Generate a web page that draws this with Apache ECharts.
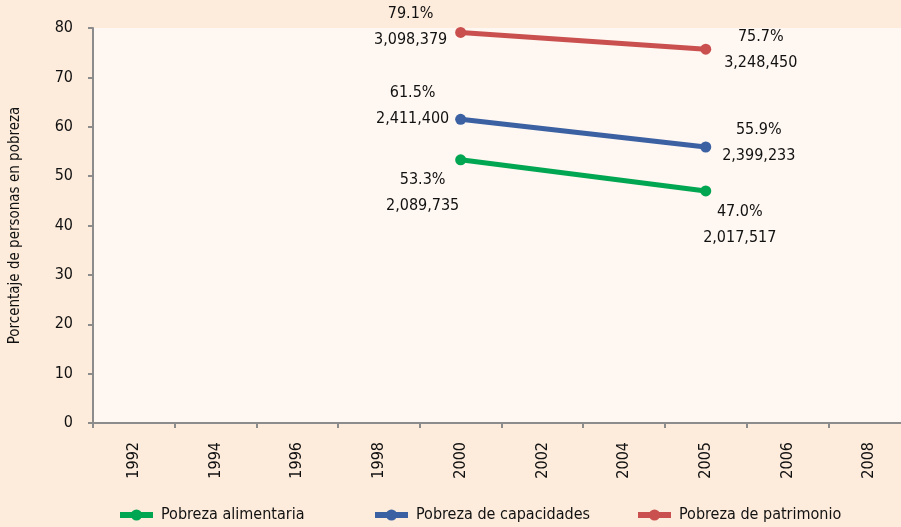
<!DOCTYPE html>
<html>
<head>
<meta charset="utf-8">
<script src="https://cdn.jsdelivr.net/npm/echarts@6/dist/echarts.min.js"></script>
<style>
  html, body { margin: 0; padding: 0; background: #FDEBDB; }
  #chart { width: 901px; height: 527px; }
</style>
</head>
<body>
<div id="chart"></div>
<script>
// Years on the horizontal axis
const years = ['1992', '1994', '1996', '1998', '2000', '2002', '2004', '2005', '2006', '2008'];

// Share of people in poverty (%) per year; null where there is no measurement
const alimentaria = [null, null, null, null, 53.3, null, null, 47.0, null, null];
const capacidades = [null, null, null, null, 61.5, null, null, 55.9, null, null];
const patrimonio  = [null, null, null, null, 79.1, null, null, 75.7, null, null];

// Number of people in poverty per year
const alimentariaPersonas = [null, null, null, null, '2,089,735', null, null, '2,017,517', null, null];
const capacidadesPersonas = [null, null, null, null, '2,411,400', null, null, '2,399,233', null, null];
const patrimonioPersonas  = [null, null, null, null, '3,098,379', null, null, '3,248,450', null, null];

const seriesNames = ['Pobreza alimentaria', 'Pobreza de capacidades', 'Pobreza de patrimonio'];
const colors = ['#00A651', '#3B61A3', '#C9504F'];

const FONT = '"DejaVu Sans Condensed", "Liberation Sans Narrow", "Noto Sans", sans-serif';

// label offsets per series for the 2000 and 2005 points
const labelOffsets = [
  { 4: [-38, 33], 7: [34, 34] },
  { 4: [-48, -14], 7: [53, -4] },
  { 4: [-50, -6], 7: [55, 1] }
];

function buildData(values, people, offsets) {
  return values.map((v, i) => {
    if (v === null) return null;
    return {
      value: v,
      label: {
        show: true,
        position: 'inside',
        offset: offsets[i],
        formatter: v.toFixed(1) + '%\n' + people[i]
      }
    };
  });
}

const valueSets = [alimentaria, capacidades, patrimonio];
const peopleSets = [alimentariaPersonas, capacidadesPersonas, patrimonioPersonas];

const series = seriesNames.map((name, k) => ({
  name: name,
  type: 'line',
  connectNulls: true,
  symbol: 'circle',
  symbolSize: 11,
  lineStyle: { width: 5, color: colors[k] },
  itemStyle: { color: colors[k] },
  label: {
    color: '#111',
    fontFamily: FONT,
    fontSize: 16,
    lineHeight: 26,
    align: 'center',
    verticalAlign: 'middle'
  },
  emphasis: { disabled: true },
  data: buildData(valueSets[k], peopleSets[k], labelOffsets[k])
}));

const legendLefts = [117, 372, 635];
const legends = seriesNames.map((name, k) => ({
  data: [name],
  left: legendLefts[k],
  top: 507,
  padding: 0,
  itemWidth: 33,
  itemHeight: 14,
  itemGap: 0,
  lineStyle: { width: 6 },
  textStyle: { fontFamily: FONT, fontSize: 16, color: '#111', padding: [0, 0, 0, 3] },
  selectedMode: false
}));

const chart = echarts.init(document.getElementById('chart'), null, { renderer: 'canvas' });
chart.setOption({
  backgroundColor: '#FDEBDB',
  animation: false,
  grid: {
    left: 93,
    top: 28,
    width: 817,
    height: 395,
    outerBoundsMode: 'none',
    containLabel: false,
    show: true,
    backgroundColor: '#FFF7F1',
    borderWidth: 0
  },
  legend: legends,
  xAxis: {
    type: 'category',
    data: years,
    boundaryGap: true,
    axisLine: { show: true, lineStyle: { color: '#8c8c8c', width: 2 } },
    axisTick: { show: true, length: 5, lineStyle: { color: '#8c8c8c', width: 2 } },
    axisLabel: {
      rotate: 90,
      margin: 19,
      fontFamily: FONT,
      fontSize: 16,
      color: '#111'
    },
    splitLine: { show: false }
  },
  yAxis: {
    type: 'value',
    min: 0,
    max: 80,
    interval: 10,
    name: 'Porcentaje de personas en pobreza',
    nameLocation: 'middle',
    nameGap: 70,
    nameTextStyle: { fontFamily: FONT, fontSize: 15, color: '#111' },
    axisLine: { show: true, lineStyle: { color: '#8c8c8c', width: 2 } },
    axisTick: { show: true, length: 5, lineStyle: { color: '#8c8c8c', width: 2 } },
    axisLabel: {
      margin: 20,
      fontFamily: FONT,
      fontSize: 16,
      color: '#111'
    },
    splitLine: { show: false }
  },
  series: series
});
</script>
</body>
</html>
